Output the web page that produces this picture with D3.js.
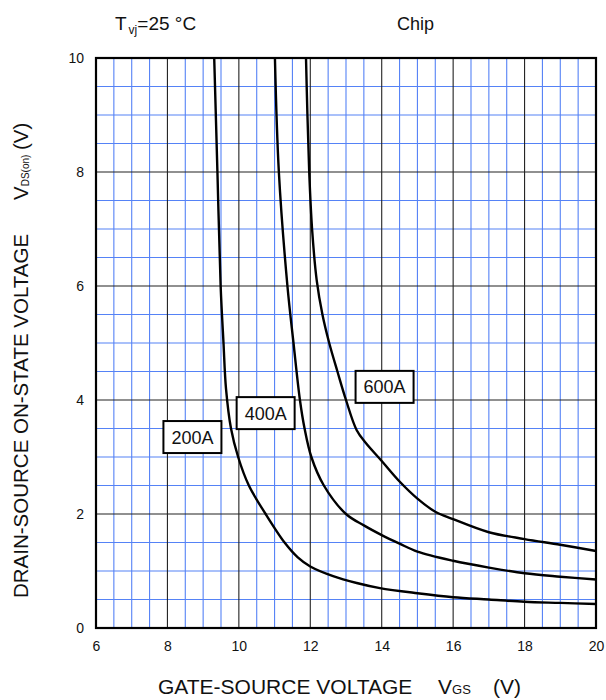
<!DOCTYPE html>
<html>
<head>
<meta charset="utf-8">
<script src="https://cdn.jsdelivr.net/npm/d3@7"></script>
<style>
  body { margin: 0; background: #fff; }
  text { font-family: "Liberation Sans", Arial, sans-serif; fill: #111; }
</style>
</head>
<body>
<div id="chart"></div>
<script>
// Data: [VGS, VDS(on)]
const curve200A = [[9.31,10],[9.40,8],[9.49,6],[9.57,5],[9.64,4.2],[9.78,3.5],[9.98,3.0],[10.28,2.5],[10.75,2.0],[11.28,1.5],[11.65,1.24],[12.0,1.08],[12.64,0.91],[13.3,0.79],[13.95,0.70],[15,0.61],[16,0.54],[17,0.5],[18,0.46],[19,0.44],[20,0.42]]
const curve400A = [[11.01,10],[11.12,8],[11.36,6],[11.53,5],[11.71,4],[11.84,3.5],[12.03,3.0],[12.38,2.5],[13.0,2.0],[13.5,1.8],[14.0,1.63],[14.5,1.48],[15.0,1.34],[16,1.18],[17,1.06],[18,0.96],[19,0.9],[20,0.85]]
const curve600A = [[11.88,10],[11.92,9],[11.97,8],[12.05,7],[12.18,6.1],[12.34,5.5],[12.53,5.0],[12.76,4.5],[13.0,4.0],[13.3,3.47],[13.55,3.25],[14.0,2.93],[14.5,2.57],[15.0,2.27],[15.5,2.04],[16,1.91],[17,1.68],[18,1.56],[19,1.46],[20,1.35]]
const curves = [curve200A, curve400A, curve600A]

const labelNames = ['200A', '400A', '600A']
const labelX = [8.70, 10.75, 14.08]
const labelY = [3.35, 3.77, 4.23]

const xTicks = [6, 8, 10, 12, 14, 16, 18, 20]
const yTicks = [0, 2, 4, 6, 8, 10]

function draw() {
  // Dimensions
  let dimensions = {
    width: 606,
    height: 700,
    left: 96,
    top: 58,
    ctrWidth: 500,
    ctrHeight: 570,
  }

  const svg = d3.select('#chart')
    .append('svg')
    .attr('width', dimensions.width)
    .attr('height', dimensions.height)

  const ctr = svg.append('g')
    .attr('transform', `translate(${dimensions.left}, ${dimensions.top})`)

  // Scales
  const xScale = d3.scaleLinear()
    .domain([6, 20])
    .range([0, dimensions.ctrWidth])

  const yScale = d3.scaleLinear()
    .domain([0, 10])
    .range([dimensions.ctrHeight, 0])

  // Grid: blue every 0.5, black on labelled ticks
  const minorX = d3.range(6.5, 20, 0.5).filter(v => v % 2 !== 0)
  const minorY = d3.range(0.5, 10, 0.5).filter(v => v % 2 !== 0)
  const majorX = xTicks.filter(v => v > 6 && v < 20)
  const majorY = yTicks.filter(v => v > 0 && v < 10)

  ctr.append('g').selectAll('line')
    .data(minorX)
    .join('line')
    .attr('x1', d => xScale(d)).attr('x2', d => xScale(d))
    .attr('y1', 0).attr('y2', dimensions.ctrHeight)
    .attr('stroke', '#5582f6').attr('stroke-width', 1.1)

  ctr.append('g').selectAll('line')
    .data(minorY)
    .join('line')
    .attr('y1', d => yScale(d)).attr('y2', d => yScale(d))
    .attr('x1', 0).attr('x2', dimensions.ctrWidth)
    .attr('stroke', '#5582f6').attr('stroke-width', 1.1)

  ctr.append('g').selectAll('line')
    .data(majorX)
    .join('line')
    .attr('x1', d => xScale(d)).attr('x2', d => xScale(d))
    .attr('y1', 0).attr('y2', dimensions.ctrHeight)
    .attr('stroke', '#222').attr('stroke-width', 1.1)

  ctr.append('g').selectAll('line')
    .data(majorY)
    .join('line')
    .attr('y1', d => yScale(d)).attr('y2', d => yScale(d))
    .attr('x1', 0).attr('x2', dimensions.ctrWidth)
    .attr('stroke', '#222').attr('stroke-width', 1.1)

  // Curves
  const lineGenerator = d3.line()
    .x(d => xScale(d[0]))
    .y(d => yScale(d[1]))
    .curve(d3.curveCatmullRom.alpha(0.5))

  ctr.append('g').selectAll('path')
    .data(curves)
    .join('path')
    .attr('d', lineGenerator)
    .attr('fill', 'none')
    .attr('stroke', '#000')
    .attr('stroke-width', 2.4)

  // Frame
  ctr.append('rect')
    .attr('width', dimensions.ctrWidth)
    .attr('height', dimensions.ctrHeight)
    .attr('fill', 'none')
    .attr('stroke', '#000')
    .attr('stroke-width', 2.2)

  // Current labels
  const labels = ctr.append('g').selectAll('g')
    .data(labelNames)
    .join('g')
    .attr('transform', (d, i) => `translate(${xScale(labelX[i])}, ${yScale(labelY[i])})`)
  labels.append('rect')
    .attr('x', -29).attr('y', -16)
    .attr('width', 58).attr('height', 32)
    .attr('fill', '#fff')
    .attr('stroke', '#000')
    .attr('stroke-width', 2)
  labels.append('text')
    .attr('text-anchor', 'middle')
    .attr('dy', '0.36em')
    .style('font-size', '18px')
    .text(d => d)

  // Axes
  const xAxis = d3.axisBottom(xScale)
    .tickValues(xTicks)
    .tickSize(0)
    .tickPadding(13)
  const xAxisGroup = ctr.append('g')
    .attr('transform', `translate(0, ${dimensions.ctrHeight})`)
    .call(xAxis)
  xAxisGroup.select('.domain').remove()
  xAxisGroup.selectAll('text').style('font-size', '14px').attr('fill', '#111')

  const yAxis = d3.axisLeft(yScale)
    .tickValues(yTicks)
    .tickSize(0)
    .tickPadding(12)
  const yAxisGroup = ctr.append('g').call(yAxis)
  yAxisGroup.select('.domain').remove()
  yAxisGroup.selectAll('text').style('font-size', '14px').attr('fill', '#111')

  // Titles
  const t1 = svg.append('text').attr('x', 115).attr('y', 30).style('font-size', '19px')
  t1.append('tspan').text('T')
  t1.append('tspan').attr('dx', 2).attr('dy', 4).style('font-size', '12px').text('vj')
  t1.append('tspan').attr('dy', -4).text('=25 °C')

  svg.append('text')
    .attr('x', 397).attr('y', 30)
    .style('font-size', '18px')
    .text('Chip')

  const xt = svg.append('text').attr('x', 158).attr('y', 694).style('font-size', '21px')
  xt.append('tspan').text('GATE-SOURCE VOLTAGE')
  xt.append('tspan').attr('x', 438).text('V')
  xt.append('tspan').style('font-size', '13px').text('GS')
  xt.append('tspan').attr('x', 493).text('(V)')

  const yt = svg.append('g').attr('transform', 'translate(28, 0) rotate(-90)')
  yt.append('text')
    .attr('x', -598)
    .style('font-size', '20.5px')
    .text('DRAIN-SOURCE ON-STATE VOLTAGE')
  const yv = yt.append('text').attr('x', -200).style('font-size', '20.5px')
  yv.append('tspan').text('V')
  yv.append('tspan').attr('dy', 1).style('font-size', '10px').text('DS(on)')
  yt.append('text')
    .attr('x', -150)
    .style('font-size', '20.5px')
    .text('(V)')
}
draw()
</script>
</body>
</html>
